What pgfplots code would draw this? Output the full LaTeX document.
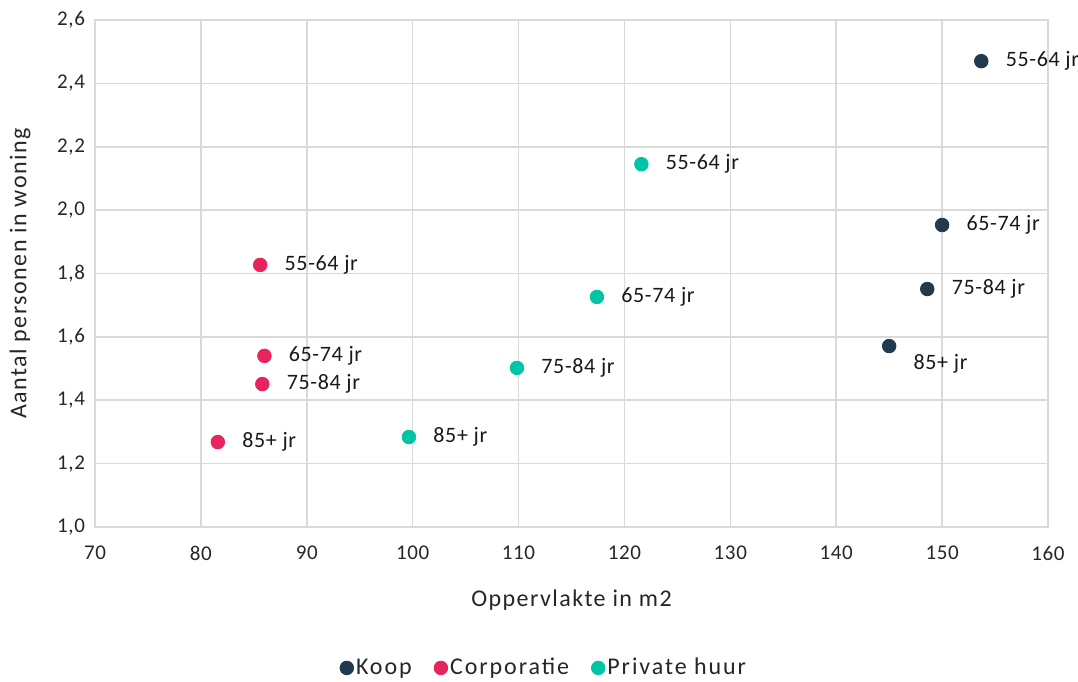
\documentclass[border=0pt]{standalone}
\usepackage{fontspec}
\setmainfont{Carlito}
\usepackage{pgfplots}
\pgfplotsset{compat=1.18}
\definecolor{koop}{HTML}{213A4D}
\definecolor{corp}{HTML}{E8245F}
\definecolor{priv}{HTML}{00C4A6}
\definecolor{gridc}{HTML}{D9D9D9}
\begin{document}
\begin{tikzpicture}
\begin{axis}[
  scale only axis,
  width=476.5pt, height=253.5pt,
  xmin=70, xmax=160, ymin=1.0, ymax=2.6,
  xtick={70,80,...,160},
  ytick={1.0,1.2,...,2.61},
  grid=major,
  major grid style={gridc, line width=0.8pt},
  axis line style={gridc, line width=0.8pt},
  tick style={draw=none},
  /pgf/number format/assume math mode=true,
  yticklabel style={/pgf/number format/use comma, /pgf/number format/fixed, /pgf/number format/fixed zerofill, /pgf/number format/precision=1, xshift=-1.5pt},
  xticklabel style={/pgf/number format/fixed, yshift=-6pt},
  ticklabel style={font=\fontsize{10.5}{12}\selectfont\addfontfeatures{LetterSpace=3}, text=black!85},
  xlabel={Oppervlakte in m2},
  ylabel={Aantal personen in woning},
  label style={font=\fontsize{12}{14}\selectfont\addfontfeatures{LetterSpace=6}, text=black!85},
  xlabel style={at={(axis description cs:0.5,-0.144)}, anchor=center},
  ylabel style={at={(axis description cs:-0.0787,0.5)}, anchor=center},
  legend style={at={(axis description cs:0.472,-0.278)}, anchor=center, draw=none,
    legend columns=3, font=\fontsize{12}{14}\selectfont\addfontfeatures{LetterSpace=8}, text=black!85,
    /tikz/every even column/.append style={column sep=9pt},
    /tikz/every odd column/.append style={column sep=-1pt}},
  legend cell align=left,
  legend image code/.code={\fill[#1] (0.5em,0) circle (3.4pt);},
  nodes near coords,
  point meta=explicit symbolic,
  every node near coord/.append style={anchor=west, xshift=8.7pt, font=\fontsize{11}{13}\selectfont\addfontfeatures{LetterSpace=3}, text=black!90},
]
\addplot[only marks, mark=*, mark size=3.4pt, color=koop] table[meta=lab] {
x y lab
153.7 2.47 55-64~jr
150.0 1.953 65-74~jr
148.6 1.751 75-84~jr
};
\addlegendentry{Koop}
\addplot[only marks, mark=*, mark size=3.4pt, color=corp] table[meta=lab] {
x y lab
85.6 1.827 55-64~jr
86.0 1.540 65-74~jr
85.8 1.451 75-84~jr
81.6 1.268 85+~jr
};
\addlegendentry{Corporatie}
\addplot[only marks, mark=*, mark size=3.4pt, color=priv] table[meta=lab] {
x y lab
121.6 2.145 55-64~jr
117.4 1.726 65-74~jr
109.85 1.502 75-84~jr
99.65 1.284 85+~jr
};
\addlegendentry{Private huur}
\addplot[only marks, mark=*, mark size=3.4pt, color=koop, forget plot,
  every node near coord/.append style={yshift=-9pt}] table[meta=lab] {
x y lab
145.0 1.571 85+~jr
};
\end{axis}
\pgfresetboundingbox
\path[use as bounding box] ([xshift=-47.5pt,yshift=-77.5pt]current axis.south west) rectangle ([xshift=15pt,yshift=10pt]current axis.north east);
\end{tikzpicture}
\end{document}
